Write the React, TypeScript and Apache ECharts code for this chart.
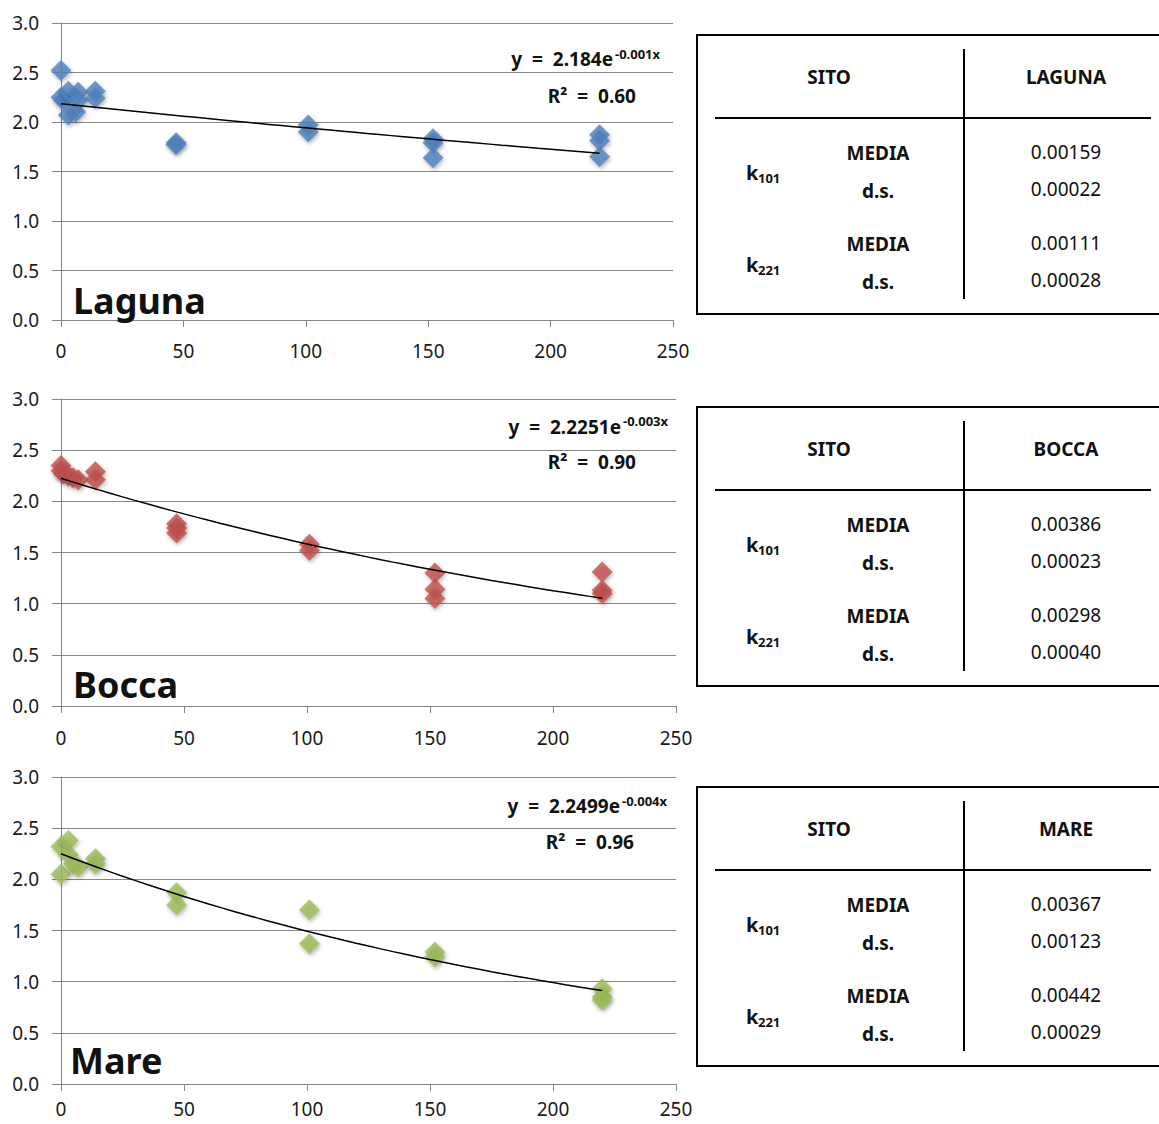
import React, { useEffect, useRef } from "react";
import * as echarts from "echarts";

// ---- data ----
const siteNames = ["Laguna", "Bocca", "Mare"];
const siteHeaders = ["LAGUNA", "BOCCA", "MARE"];
const siteColors = ["#4F81BD", "#C0504D", "#9BBB59"];

const lagunaPoints = [
  [0, 2.52], [0, 2.25], [1, 2.22], [3, 2.31], [3, 2.07], [7, 2.3], [6, 2.1], [7, 2.22],
  [14, 2.31], [14, 2.24], [47, 1.79], [47, 1.77], [101, 1.97], [101, 1.9],
  [152, 1.83], [152, 1.79], [152, 1.64], [220, 1.87], [220, 1.81], [220, 1.65],
];
const boccaPoints = [
  [0, 2.35], [0, 2.3], [1, 2.27], [3, 2.25], [5, 2.23], [7, 2.21], [14, 2.29], [14, 2.21],
  [47, 1.78], [47, 1.74], [47, 1.69], [101, 1.58], [101, 1.52],
  [152, 1.3], [152, 1.14], [152, 1.05], [220, 1.31], [220, 1.13], [220, 1.1],
];
const marePoints = [
  [0, 2.32], [0, 2.05], [3, 2.38], [3, 2.24], [5, 2.15], [7, 2.12], [14, 2.2], [14, 2.15],
  [47, 1.87], [47, 1.75], [101, 1.7], [101, 1.37], [152, 1.29], [152, 1.24],
  [220, 0.93], [220, 0.85], [220, 0.82],
];
const sitePoints = [lagunaPoints, boccaPoints, marePoints];

// exponential trend fits y = a * e^(-b x)
const trendA = [2.184, 2.2251, 2.2499];
const trendB = [0.00118, 0.0034, 0.0041];
const trendXEnd = [220, 220, 220];
const eqMain = ["y  =  2.184e", "y  =  2.2251e", "y  =  2.2499e"];
const eqExp = ["-0.001x", "-0.003x", "-0.004x"];
const eqR2 = ["R²  =  0.60", "R²  =  0.90", "R²  =  0.96"];

const k101Media = ["0.00159", "0.00386", "0.00367"];
const k101Ds = ["0.00022", "0.00023", "0.00123"];
const k221Media = ["0.00111", "0.00298", "0.00442"];
const k221Ds = ["0.00028", "0.00040", "0.00029"];

const xMin = 0, xMax = 250, xStep = 50;
const yMin = 0, yMax = 3, yStep = 0.5;

// ---- layout ----
const grids = [
  { left: 61, top: 23, width: 612, height: 297 },
  { left: 61, top: 399, width: 615, height: 307 },
  { left: 61, top: 777, width: 615, height: 307 },
];
const xLabelMargin = [21, 22, 15];
const eqPos = [
  { mainRight: 613, supLeft: 615, y: 59, supY: 54, r2Right: 636, r2Y: 96 },
  { mainRight: 621, supLeft: 623, y: 427, supY: 421, r2Right: 636, r2Y: 462 },
  { mainRight: 620, supLeft: 622, y: 806, supY: 801, r2Right: 634, r2Y: 842 },
];
const titlePos = [
  { x: 73, y: 300 },
  { x: 73, y: 684 },
  { x: 70, y: 1060 },
];
const tableOffsets = [0, 372, 752];

const FONT = "'Noto Sans', 'Open Sans', sans-serif";
const AXIS_GRAY = "#868686";

function txt(x: number, y: number, text: string, size: number, weight: string, align: string) {
  return {
    type: "text",
    x,
    y,
    z: 100,
    style: {
      text,
      fill: "#111",
      font: `${weight} ${size}px ${FONT}`,
      align,
      verticalAlign: "middle",
      textAlign: align,
      textVerticalAlign: "middle",
    },
  };
}

function buildGraphics() {
  const g: any[] = [];
  for (let i = 0; i < 3; i++) {
    const e = eqPos[i];
    g.push(txt(e.mainRight, e.y, eqMain[i], 19, "bold", "right"));
    g.push(txt(e.supLeft, e.supY, eqExp[i], 13, "bold", "left"));
    g.push(txt(e.r2Right, e.r2Y, eqR2[i], 19, "bold", "right"));
    const t = titlePos[i];
    g.push(txt(t.x, t.y, siteNames[i], 36, "bold", "left"));

    const o = tableOffsets[i];
    g.push({
      type: "rect",
      shape: { x: 697, y: 35 + o, width: 520, height: 279 },
      style: { fill: "none", stroke: "#000", lineWidth: 2 },
      z: 90,
    });
    g.push({
      type: "line",
      shape: { x1: 715, y1: 118 + o, x2: 1151, y2: 118 + o },
      style: { stroke: "#000", lineWidth: 2 },
      z: 90,
    });
    g.push({
      type: "line",
      shape: { x1: 964, y1: 49 + o, x2: 964, y2: 299 + o },
      style: { stroke: "#000", lineWidth: 2 },
      z: 90,
    });
    g.push(txt(829, 77 + o, "SITO", 19, "bold", "center"));
    g.push(txt(1066, 77 + o, siteHeaders[i], 19, "bold", "center"));
    g.push(txt(878, 153 + o, "MEDIA", 19, "bold", "center"));
    g.push(txt(878, 191 + o, "d.s.", 19, "bold", "center"));
    g.push(txt(878, 244 + o, "MEDIA", 19, "bold", "center"));
    g.push(txt(878, 282 + o, "d.s.", 19, "bold", "center"));
    g.push(txt(1066, 152 + o, k101Media[i], 19, "normal", "center"));
    g.push(txt(1066, 189 + o, k101Ds[i], 19, "normal", "center"));
    g.push(txt(1066, 243 + o, k221Media[i], 19, "normal", "center"));
    g.push(txt(1066, 280 + o, k221Ds[i], 19, "normal", "center"));
    g.push(txt(746, 172 + o, "k", 20, "bold", "left"));
    g.push(txt(758, 178 + o, "101", 13, "bold", "left"));
    g.push(txt(746, 264 + o, "k", 20, "bold", "left"));
    g.push(txt(758, 270 + o, "221", 13, "bold", "left"));
  }
  return g;
}

export default function App() {
  const ref = useRef<HTMLDivElement>(null);
  useEffect(() => {
    if (!ref.current) return;
    const chart = echarts.init(ref.current, undefined, { renderer: "svg" });

    const xAxis: any[] = [];
    const yAxis: any[] = [];
    const series: any[] = [];
    for (let i = 0; i < 3; i++) {
      xAxis.push({
        type: "value",
        gridIndex: i,
        min: xMin,
        max: xMax,
        interval: xStep,
        axisLine: { show: true, lineStyle: { color: AXIS_GRAY, width: 1 } },
        axisTick: { show: true, length: 7, lineStyle: { color: AXIS_GRAY } },
        splitLine: { show: false },
        axisLabel: { fontSize: 19, color: "#1a1a1a", fontFamily: FONT, margin: xLabelMargin[i] },
      });
      yAxis.push({
        type: "value",
        gridIndex: i,
        min: yMin,
        max: yMax,
        interval: yStep,
        axisLine: { show: true, lineStyle: { color: AXIS_GRAY, width: 1 } },
        axisTick: { show: true, length: 9, lineStyle: { color: AXIS_GRAY } },
        splitLine: { show: true, lineStyle: { color: AXIS_GRAY, width: 1 } },
        axisLabel: {
          fontSize: 19,
          color: "#1a1a1a",
          fontFamily: FONT,
          margin: 22,
          formatter: (v: number) => v.toFixed(1),
        },
      });
      series.push({
        type: "scatter",
        xAxisIndex: i,
        yAxisIndex: i,
        symbol: "diamond",
        symbolSize: 21,
        data: sitePoints[i],
        itemStyle: {
          color: siteColors[i],
          shadowBlur: 4,
          shadowColor: "rgba(0,0,0,0.35)",
          shadowOffsetX: 1,
          shadowOffsetY: 2,
        },
        z: 2,
      });
      const trend: number[][] = [];
      for (let x = 0; x <= trendXEnd[i]; x += 5) {
        trend.push([x, trendA[i] * Math.exp(-trendB[i] * x)]);
      }
      series.push({
        type: "line",
        xAxisIndex: i,
        yAxisIndex: i,
        showSymbol: false,
        symbol: "none",
        data: trend,
        lineStyle: { color: "#000", width: 1.5 },
        z: 5,
        silent: true,
      });
    }

    chart.setOption({
      animation: false,
      backgroundColor: "#fff",
      textStyle: { fontFamily: FONT },
      grid: grids.map((g) => ({ ...g, containLabel: false })),
      xAxis,
      yAxis,
      series,
      graphic: buildGraphics(),
    });
    return () => chart.dispose();
  }, []);
  return (
    <div
      ref={ref}
      style={{ position: "absolute", left: 0, top: 0, width: 1159, height: 1124 }}
    />
  );
}
